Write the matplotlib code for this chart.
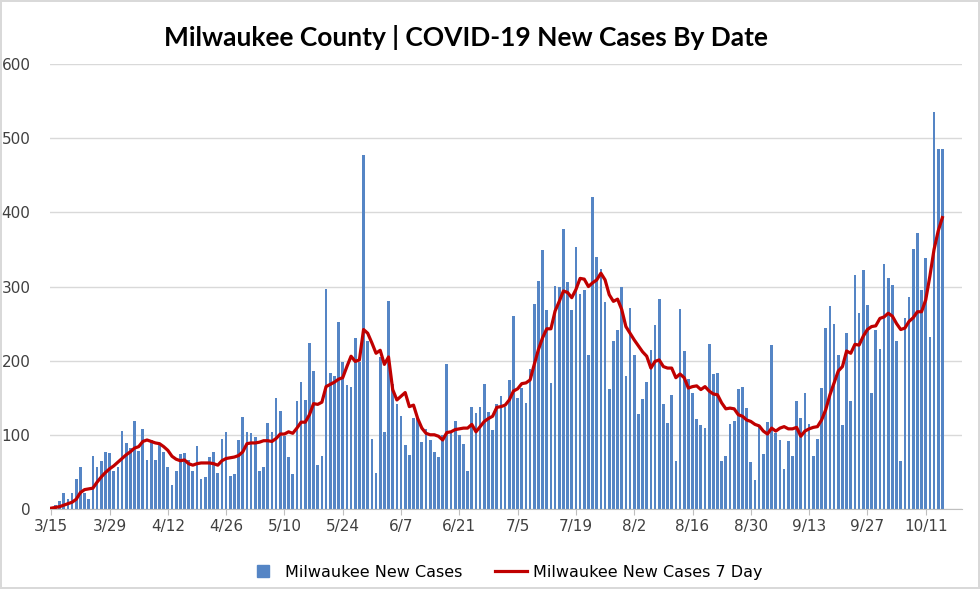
import numpy as np
import matplotlib
matplotlib.use("Agg")
import matplotlib.pyplot as plt
from matplotlib.lines import Line2D

# Daily new cases, 3/15 .. 10/15
new_cases = [
    2, 5, 10, 22, 14, 22, 40, 56, 22, 14, 71, 57, 64, 77, 76, 51, 57,
    105, 89, 82, 118, 78, 108, 66, 93, 66, 86, 77, 57, 32, 51, 74, 76, 66, 51,
    85, 41, 43, 70, 77, 48, 94, 104, 45, 47, 93, 124, 104, 103, 97, 51, 57,
    116, 104, 150, 132, 98, 70, 47, 146, 171, 147, 224, 186, 59, 71, 297, 183, 179, 252, 198,
    167, 165, 231, 198, 478, 227, 94, 49, 205, 104, 280, 168, 141, 125, 86, 73, 123, 122,
    90, 108, 93, 77, 70, 100, 195, 102, 118, 100, 88, 51, 137, 130, 137, 168, 131, 106,
    142, 152, 138, 174, 260, 150, 163, 143, 189, 276, 308, 349, 268, 170, 301, 300, 378,
    306, 269, 354, 290, 295, 207, 421, 340, 324, 279, 162, 226, 241, 300, 179, 271, 208, 128, 148,
    171, 214, 248, 283, 142, 116, 153, 65, 270, 213, 175, 157, 121, 113, 109, 222, 182, 184,
    65, 72, 114, 118, 162, 165, 136, 63, 39, 110, 74, 117, 221, 103, 93, 54, 91, 71,
    145, 123, 156, 114, 72, 94, 163, 244, 274, 250, 208, 113, 237, 145, 316, 264, 323, 275,
    156, 242, 216, 330, 312, 302, 226, 65, 257, 286, 351, 372, 296, 338, 232, 535, 485, 486,
]

# 7 day average line
avg_7day = [
    1, 2, 3, 5, 7, 9, 13, 22, 26, 27, 28, 36, 43, 49, 54, 58, 63,
    68, 73, 77, 82, 84, 91, 93, 91, 89, 88, 84, 79, 71, 67, 65, 66, 61, 59,
    61, 62, 62, 62, 61, 59, 65, 68, 69, 70, 72, 77, 88, 89, 89, 90, 92,
    92, 91, 95, 101, 101, 104, 102, 109, 117, 117, 127, 142, 141, 144, 165, 168, 171, 175, 177,
    192, 206, 199, 201, 242, 237, 224, 210, 214, 195, 205, 161, 147, 152, 157, 138, 140, 122,
    109, 102, 100, 100, 98, 93, 103, 104, 107, 108, 109, 109, 114, 104, 111, 118, 122, 125,
    137, 138, 140, 147, 159, 162, 169, 170, 174, 195, 215, 231, 243, 243, 267, 280, 294,
    292, 285, 296, 311, 310, 300, 305, 309, 318, 309, 289, 280, 283, 269, 246, 237, 228, 220, 212,
    206, 190, 199, 201, 192, 190, 190, 177, 182, 177, 163, 165, 166, 161, 165, 159, 155, 154,
    143, 135, 136, 135, 127, 125, 120, 118, 114, 112, 105, 101, 109, 105, 109, 111, 108, 108,
    110, 98, 105, 108, 110, 111, 120, 134, 154, 170, 186, 192, 213, 210, 222, 221, 233, 242,
    246, 247, 257, 259, 264, 260, 250, 242, 244, 253, 258, 266, 266, 282, 314, 350, 375, 393,
]

tick_labels = ["3/15", "3/29", "4/12", "4/26", "5/10", "5/24", "6/7", "6/21",
               "7/5", "7/19", "8/2", "8/16", "8/30", "9/13", "9/27", "10/11"]

bar_color = "#5585C5"
line_color = "#C00000"

x = np.arange(len(new_cases))
tick_pos = np.arange(len(tick_labels)) * 14

fig = plt.figure(figsize=(9.8, 5.89), dpi=100)
fig.patch.set_edgecolor("#d9d9d9")
fig.patch.set_linewidth(1.5)
ax = fig.add_axes([0.051, 0.136, 0.931, 0.755])

ax.bar(x, new_cases, width=0.65, color=bar_color, zorder=2)
ax.plot(x, avg_7day, color=line_color, linewidth=2.3, zorder=3)

ax.set_xlim(-0.3, 218.8)
ax.set_ylim(0, 600)
ax.set_yticks(range(0, 601, 100))
ax.set_xticks(tick_pos)
ax.set_xticklabels(tick_labels)
ax.grid(axis="y", color="#d9d9d9", linewidth=1, zorder=0)
for s in ["top", "right", "left"]:
    ax.spines[s].set_visible(False)
ax.spines["bottom"].set_color("#bfbfbf")
ax.tick_params(axis="y", length=0, labelsize=11, labelcolor="#404040", pad=14)
ax.tick_params(axis="x", length=4, color="#bfbfbf", labelsize=11, labelcolor="#404040")

fig.suptitle("Milwaukee County | COVID-19 New Cases By Date", x=0.475, y=0.958,
             fontsize=19, fontweight="bold", family="Lato")

handles = [
    Line2D([], [], marker="s", linestyle="None", color=bar_color, markersize=9),
    Line2D([], [], color=line_color, linewidth=2.3),
]
fig.legend(handles, ["Milwaukee New Cases", "Milwaukee New Cases 7 Day"],
           loc="center", bbox_to_anchor=(0.515, 0.028), ncol=2, frameon=False,
           fontsize=11.5, handlelength=2.0, handletextpad=0.4, columnspacing=2.0)

fig.savefig("out.png", dpi=100)
